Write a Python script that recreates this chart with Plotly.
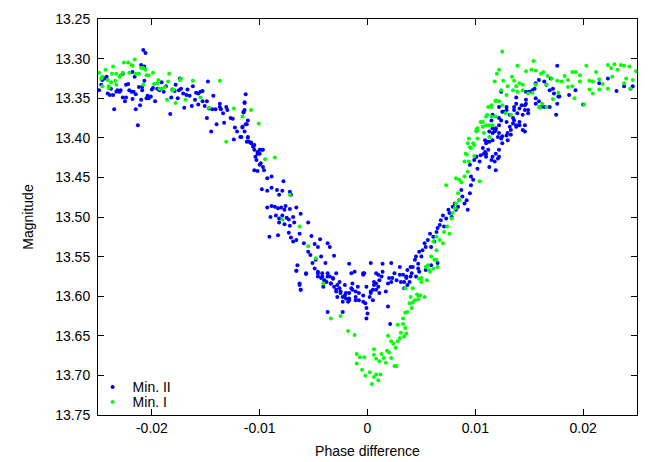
import plotly.graph_objects as go

# Min. II (blue) : (phase difference, magnitude)
min2_left = [
    (-0.0249, 13.340), (-0.0247, 13.333), (-0.0246, 13.327), (-0.0244, 13.325), (-0.0242, 13.323),
    (-0.0241, 13.344), (-0.0239, 13.346), (-0.0238, 13.338), (-0.0236, 13.346), (-0.0235, 13.364),
    (-0.0233, 13.342), (-0.0232, 13.340), (-0.0230, 13.342), (-0.0229, 13.340), (-0.0227, 13.319),
    (-0.0227, 13.349), (-0.0225, 13.354), (-0.0224, 13.349), (-0.0224, 13.333), (-0.0222, 13.332),
    (-0.0221, 13.340), (-0.0219, 13.342), (-0.0218, 13.351), (-0.0218, 13.317), (-0.0217, 13.342),
    (-0.0216, 13.323), (-0.0215, 13.345), (-0.0215, 13.364), (-0.0213, 13.384), (-0.0212, 13.336),
    (-0.0211, 13.359), (-0.0210, 13.308), (-0.0210, 13.352), (-0.0209, 13.340), (-0.0209, 13.336),
    (-0.0207, 13.310), (-0.0207, 13.328), (-0.0205, 13.350), (-0.0204, 13.347), (-0.0203, 13.350),
    (-0.0201, 13.348), (-0.0200, 13.339), (-0.0199, 13.337), (-0.0197, 13.354), (-0.0195, 13.338),
    (-0.0193, 13.340), (-0.0191, 13.330), (-0.0189, 13.342), (-0.0187, 13.335), (-0.0183, 13.370),
    (-0.0182, 13.349), (-0.0181, 13.339), (-0.0179, 13.341), (-0.0178, 13.333), (-0.0176, 13.350),
    (-0.0175, 13.340), (-0.0174, 13.325), (-0.0173, 13.338), (-0.0171, 13.344), (-0.0170, 13.362),
    (-0.0168, 13.346), (-0.0167, 13.339), (-0.0165, 13.347), (-0.0163, 13.360), (-0.0162, 13.335),
    (-0.0160, 13.352), (-0.0159, 13.343), (-0.0157, 13.358), (-0.0157, 13.344), (-0.0155, 13.342),
    (-0.0153, 13.341), (-0.0153, 13.354), (-0.0151, 13.360), (-0.0149, 13.354), (-0.0149, 13.375),
    (-0.0148, 13.329), (-0.0147, 13.363), (-0.0145, 13.392), (-0.0144, 13.364), (-0.0143, 13.347),
    (-0.0141, 13.364), (-0.0140, 13.383), (-0.0137, 13.361), (-0.0137, 13.357), (-0.0136, 13.364),
    (-0.0134, 13.369), (-0.0133, 13.381), (-0.0131, 13.361), (-0.0130, 13.365), (-0.0127, 13.375),
    (-0.0125, 13.376), (-0.0124, 13.402), (-0.0123, 13.387), (-0.0121, 13.392), (-0.0118, 13.399),
    (-0.0116, 13.387), (-0.0115, 13.367), (-0.0114, 13.355), (-0.0114, 13.365), (-0.0113, 13.345),
    (-0.0112, 13.383), (-0.0111, 13.399), (-0.0110, 13.405), (-0.0108, 13.407), (-0.0106, 13.411),
    (-0.0105, 13.409), (-0.0104, 13.424), (-0.0102, 13.418), (-0.0100, 13.420), (-0.0098, 13.415),
    (-0.0208, 13.289), (-0.0206, 13.293),
]

min2_descent = [
    (-0.0114, 13.356), (-0.0115, 13.368), (-0.0111, 13.378), (-0.0113, 13.383), (-0.0116, 13.386),
    (-0.0114, 13.392), (-0.0117, 13.399), (-0.0111, 13.400), (-0.0112, 13.405), (-0.0108, 13.406),
    (-0.0106, 13.411), (-0.0105, 13.415), (-0.0100, 13.415), (-0.0097, 13.415), (-0.0102, 13.420),
    (-0.0103, 13.428), (-0.0099, 13.432), (-0.0100, 13.434), (-0.0097, 13.437), (-0.0096, 13.441),
    (-0.0105, 13.441), (-0.0102, 13.442), (-0.0093, 13.451), (-0.0089, 13.449), (-0.0078, 13.455),
    (-0.0098, 13.465), (-0.0093, 13.467), (-0.0089, 13.463), (-0.0084, 13.466), (-0.0082, 13.472),
    (-0.0079, 13.467), (-0.0072, 13.468), (-0.0071, 13.472), (-0.0093, 13.488), (-0.0089, 13.486),
    (-0.0086, 13.487), (-0.0083, 13.489), (-0.0080, 13.488), (-0.0076, 13.486), (-0.0077, 13.491),
    (-0.0072, 13.490), (-0.0066, 13.488), (-0.0090, 13.500), (-0.0085, 13.498), (-0.0082, 13.502),
    (-0.0079, 13.498), (-0.0075, 13.501), (-0.0073, 13.503), (-0.0069, 13.500), (-0.0062, 13.496),
    (-0.0082, 13.507), (-0.0077, 13.509), (-0.0072, 13.511), (-0.0068, 13.507), (-0.0055, 13.507),
    (-0.0091, 13.525), (-0.0083, 13.523), (-0.0073, 13.520), (-0.0071, 13.526), (-0.0063, 13.521),
    (-0.0069, 13.531), (-0.0066, 13.529), (-0.0052, 13.524), (-0.0059, 13.533), (-0.0049, 13.534),
    (-0.0046, 13.538), (-0.0044, 13.528), (-0.0037, 13.533), (-0.0055, 13.544), (-0.0053, 13.548),
    (-0.0051, 13.558), (-0.0048, 13.554), (-0.0043, 13.550), (-0.0039, 13.558), (-0.0035, 13.538),
    (-0.0031, 13.549), (-0.0065, 13.561), (-0.0066, 13.568), (-0.0057, 13.571), (-0.0046, 13.571),
    (-0.0042, 13.575), (-0.0037, 13.575), (-0.0032, 13.578), (-0.0029, 13.571), (-0.0026, 13.582),
    (-0.0017, 13.559), (-0.0015, 13.571), (-0.0021, 13.586), (-0.0063, 13.586), (-0.0062, 13.592),
    (-0.0029, 13.592), (-0.0025, 13.594), (-0.0020, 13.596), (-0.0014, 13.592), (-0.0011, 13.601),
    (-0.0004, 13.571), (-0.0001, 13.588), (0.0003, 13.594), (0.0006, 13.582), (0.0008, 13.571),
    (0.0010, 13.588), (-0.0046, 13.575), (-0.0038, 13.582), (-0.0034, 13.584), (-0.0040, 13.580),
    (-0.0023, 13.601), (-0.0017, 13.603),
]

min2_bottom = [
    (-0.0066, 13.568), (-0.0057, 13.572), (-0.0063, 13.584), (-0.0062, 13.592), (-0.0049, 13.565),
    (-0.0046, 13.569), (-0.0042, 13.571), (-0.0043, 13.577), (-0.0040, 13.580), (-0.0037, 13.571),
    (-0.0035, 13.575), (-0.0032, 13.577), (-0.0034, 13.584), (-0.0031, 13.588), (-0.0028, 13.586),
    (-0.0026, 13.590), (-0.0025, 13.596), (-0.0021, 13.599), (-0.0029, 13.594), (-0.0028, 13.601),
    (-0.0023, 13.607), (-0.0020, 13.603), (-0.0018, 13.607), (-0.0017, 13.596), (-0.0015, 13.590),
    (-0.0014, 13.584), (-0.0011, 13.594), (-0.0009, 13.588), (-0.0008, 13.605), (-0.0004, 13.599),
    (-0.0003, 13.571), (-0.0002, 13.609), (-0.0001, 13.615), (0.0000, 13.622), (-0.0001, 13.628),
    (-0.0004, 13.607), (0.0002, 13.601), (0.0003, 13.596), (0.0005, 13.592), (0.0006, 13.586),
    (0.0008, 13.584), (0.0010, 13.573), (0.0011, 13.580), (0.0013, 13.575), (0.0014, 13.569),
    (0.0017, 13.594), (0.0019, 13.584), (0.0020, 13.577), (0.0022, 13.582), (0.0023, 13.577),
    (0.0025, 13.571), (0.0027, 13.580), (0.0030, 13.573), (0.0034, 13.582), (0.0036, 13.577),
    (0.0037, 13.586), (0.0040, 13.575), (0.0045, 13.575), (0.0048, 13.569), (0.0019, 13.613),
    (0.0021, 13.635), (-0.0037, 13.620), (-0.0023, 13.620), (0.0008, 13.592), (0.0011, 13.596),
    (0.0005, 13.605), (0.0003, 13.558), (0.0014, 13.559), (0.0022, 13.558), (0.0030, 13.563),
    (0.0040, 13.563), (0.0047, 13.565), (0.0054, 13.567), (0.0059, 13.561), (0.0065, 13.558),
    (-0.0012, 13.569), (-0.0004, 13.573), (-0.0041, 13.588), (-0.0017, 13.605), (-0.0011, 13.605),
    (-0.0008, 13.596),
]

min2_ascent = [
    (0.0034, 13.590), (0.0031, 13.582), (0.0036, 13.575), (0.0039, 13.582), (0.0033, 13.573),
    (0.0037, 13.567), (0.0041, 13.571), (0.0042, 13.563), (0.0044, 13.554), (0.0045, 13.550),
    (0.0047, 13.559), (0.0048, 13.544), (0.0050, 13.550), (0.0051, 13.542), (0.0053, 13.533),
    (0.0054, 13.538), (0.0056, 13.529), (0.0058, 13.521), (0.0059, 13.538), (0.0061, 13.525),
    (0.0062, 13.531), (0.0064, 13.519), (0.0065, 13.514), (0.0067, 13.510), (0.0068, 13.504),
    (0.0070, 13.498), (0.0071, 13.512), (0.0073, 13.502), (0.0075, 13.491), (0.0076, 13.495),
    (0.0078, 13.500), (0.0079, 13.487), (0.0081, 13.483), (0.0082, 13.491), (0.0084, 13.487),
    (0.0085, 13.479), (0.0087, 13.466), (0.0088, 13.474), (0.0090, 13.483), (0.0092, 13.479),
    (0.0093, 13.491), (0.0095, 13.470), (0.0096, 13.460), (0.0098, 13.453), (0.0096, 13.449),
    (0.0095, 13.434), (0.0099, 13.428), (0.0101, 13.424), (0.0102, 13.439), (0.0104, 13.430),
    (0.0105, 13.422), (0.0107, 13.413), (0.0109, 13.418), (0.0110, 13.420), (0.0112, 13.415),
    (0.0113, 13.437), (0.0115, 13.428), (0.0116, 13.424), (0.0118, 13.430), (0.0119, 13.441),
    (0.0121, 13.426), (0.0122, 13.415), (0.0109, 13.403), (0.0110, 13.407), (0.0113, 13.405),
    (0.0116, 13.394), (0.0118, 13.392), (0.0119, 13.390), (0.0121, 13.399), (0.0122, 13.394),
    (0.0124, 13.401), (0.0125, 13.407), (0.0129, 13.397), (0.0130, 13.403), (0.0132, 13.386),
    (0.0133, 13.390), (0.0135, 13.382), (0.0136, 13.378), (0.0138, 13.384), (0.0139, 13.369),
    (0.0141, 13.380), (0.0144, 13.371), (0.0146, 13.392), (0.0147, 13.357), (0.0149, 13.369),
    (0.0115, 13.378), (0.0116, 13.371), (0.0122, 13.375), (0.0125, 13.367), (0.0129, 13.361),
    (0.0132, 13.371), (0.0136, 13.365), (0.0143, 13.359), (0.0146, 13.365), (0.0156, 13.357),
    (0.0122, 13.361),
]

min2_right = [
    (0.0176, 13.309), (0.0159, 13.327), (0.0164, 13.329), (0.0166, 13.333), (0.0170, 13.325),
    (0.0169, 13.340), (0.0172, 13.338), (0.0173, 13.344), (0.0178, 13.348), (0.0176, 13.357),
    (0.0175, 13.371), (0.0177, 13.348), (0.0169, 13.361), (0.0164, 13.361), (0.0161, 13.361),
    (0.0159, 13.354), (0.0156, 13.350), (0.0155, 13.338), (0.0153, 13.340), (0.0150, 13.342),
    (0.0147, 13.352), (0.0146, 13.359), (0.0149, 13.365), (0.0141, 13.363), (0.0138, 13.357),
    (0.0136, 13.361), (0.0129, 13.365), (0.0126, 13.367), (0.0124, 13.378), (0.0122, 13.384),
    (0.0119, 13.388), (0.0116, 13.388), (0.0113, 13.392), (0.0129, 13.380), (0.0130, 13.394),
    (0.0133, 13.396), (0.0141, 13.384), (0.0144, 13.390), (0.0146, 13.384), (0.0138, 13.386),
    (0.0135, 13.375), (0.0124, 13.342), (0.0138, 13.349), (0.0147, 13.342), (0.0156, 13.331),
    (0.0187, 13.346), (0.0193, 13.340), (0.0200, 13.358), (0.0215, 13.331), (0.0223, 13.325),
    (0.0231, 13.341), (0.0238, 13.335), (0.0244, 13.338), (0.0246, 13.335), (0.0111, 13.405),
    (0.0116, 13.403), (0.0119, 13.420), (0.0122, 13.424), (0.0108, 13.420), (0.0110, 13.424),
    (0.0101, 13.424), (0.0125, 13.398),
]

# Min. I (green)
min1_left = [
    (-0.0249, 13.318), (-0.0247, 13.325), (-0.0246, 13.323), (-0.0243, 13.314), (-0.0241, 13.327),
    (-0.0240, 13.335), (-0.0238, 13.330), (-0.0237, 13.319), (-0.0236, 13.310), (-0.0234, 13.328),
    (-0.0233, 13.319), (-0.0230, 13.323), (-0.0229, 13.321), (-0.0227, 13.318), (-0.0226, 13.305),
    (-0.0222, 13.305), (-0.0221, 13.318), (-0.0219, 13.308), (-0.0218, 13.309), (-0.0216, 13.301),
    (-0.0215, 13.319), (-0.0212, 13.319), (-0.0210, 13.312), (-0.0208, 13.312), (-0.0208, 13.333),
    (-0.0206, 13.314), (-0.0205, 13.321), (-0.0203, 13.321), (-0.0199, 13.318), (-0.0198, 13.332),
    (-0.0195, 13.331), (-0.0194, 13.327), (-0.0193, 13.338), (-0.0191, 13.338), (-0.0188, 13.336),
    (-0.0186, 13.352), (-0.0185, 13.329), (-0.0184, 13.319), (-0.0181, 13.340), (-0.0180, 13.339),
    (-0.0178, 13.356), (-0.0174, 13.327), (-0.0173, 13.325), (-0.0169, 13.352), (-0.0162, 13.328),
    (-0.0155, 13.349), (-0.0147, 13.362), (-0.0137, 13.328), (-0.0131, 13.405), (-0.0124, 13.363),
    (-0.0116, 13.373), (-0.0108, 13.365), (-0.0101, 13.382), (-0.0246, 13.335), (-0.0240, 13.337),
    (-0.0233, 13.333),
]

min1_descent = [
    (-0.0095, 13.427), (-0.0086, 13.425), (-0.0072, 13.472), (-0.0079, 13.503), (-0.0063, 13.512),
    (-0.0055, 13.537), (-0.0048, 13.552), (-0.0041, 13.584),
]

min1_bottom = [
    (-0.0034, 13.628), (-0.0025, 13.625), (-0.0018, 13.644), (-0.0012, 13.649), (-0.0010, 13.673),
    (-0.0007, 13.677), (-0.0003, 13.677), (-0.0010, 13.685), (-0.0005, 13.693), (-0.0002, 13.700),
    (0.0002, 13.696), (0.0004, 13.711), (0.0006, 13.702), (0.0008, 13.699), (0.0010, 13.706),
    (0.0012, 13.699), (0.0006, 13.667), (0.0006, 13.674), (0.0008, 13.679), (0.0011, 13.682),
    (0.0013, 13.673), (0.0015, 13.678), (0.0017, 13.684), (0.0018, 13.669), (0.0020, 13.671),
    (0.0022, 13.678), (0.0025, 13.688), (0.0027, 13.688), (0.0022, 13.657), (0.0024, 13.660),
    (0.0026, 13.665), (0.0028, 13.657), (0.0030, 13.653), (0.0019, 13.650), (0.0028, 13.636),
    (0.0033, 13.635), (0.0031, 13.646), (0.0034, 13.651), (0.0036, 13.647), (0.0035, 13.640),
    (0.0033, 13.628), (0.0035, 13.621), (0.0037, 13.620), (0.0041, 13.615), (0.0042, 13.608),
    (0.0039, 13.609), (0.0044, 13.605), (0.0047, 13.604), (0.0046, 13.598), (0.0049, 13.599),
    (0.0053, 13.601), (0.0042, 13.590), (0.0035, 13.590), (0.0050, 13.582), (0.0050, 13.577),
    (0.0055, 13.580), (0.0058, 13.569), (0.0054, 13.563), (0.0065, 13.563), (0.0064, 13.554),
]

min1_ascent = [
    (0.0040, 13.601), (0.0047, 13.599), (0.0048, 13.578), (0.0057, 13.567), (0.0056, 13.561),
    (0.0061, 13.565), (0.0062, 13.554), (0.0064, 13.542), (0.0059, 13.550), (0.0061, 13.531),
    (0.0064, 13.525), (0.0067, 13.529), (0.0070, 13.533), (0.0071, 13.519), (0.0074, 13.512),
    (0.0076, 13.521), (0.0078, 13.502), (0.0079, 13.495), (0.0081, 13.489), (0.0082, 13.483),
    (0.0085, 13.479), (0.0084, 13.470), (0.0087, 13.456), (0.0082, 13.451), (0.0085, 13.453),
    (0.0073, 13.460), (0.0090, 13.449), (0.0093, 13.443), (0.0090, 13.430), (0.0094, 13.430),
    (0.0091, 13.420), (0.0096, 13.413), (0.0093, 13.407), (0.0099, 13.409), (0.0094, 13.401),
    (0.0101, 13.392), (0.0104, 13.455), (0.0102, 13.390), (0.0107, 13.386), (0.0105, 13.380),
    (0.0108, 13.394), (0.0110, 13.384), (0.0113, 13.399), (0.0115, 13.373), (0.0116, 13.384),
    (0.0111, 13.371), (0.0115, 13.361), (0.0119, 13.354), (0.0125, 13.359), (0.0133, 13.371),
    (0.0128, 13.369), (0.0162, 13.357), (0.0159, 13.361),
]

min1_right = [
    (0.0125, 13.291), (0.0139, 13.309), (0.0154, 13.303), (0.0122, 13.314), (0.0120, 13.319),
    (0.0118, 13.329), (0.0126, 13.328), (0.0130, 13.335), (0.0134, 13.323), (0.0136, 13.328),
    (0.0141, 13.331), (0.0144, 13.333), (0.0147, 13.316), (0.0152, 13.314), (0.0156, 13.315),
    (0.0161, 13.319), (0.0163, 13.317), (0.0167, 13.322), (0.0171, 13.325), (0.0176, 13.328),
    (0.0180, 13.329), (0.0183, 13.322), (0.0186, 13.327), (0.0190, 13.317), (0.0193, 13.317),
    (0.0197, 13.321), (0.0203, 13.309), (0.0206, 13.328), (0.0209, 13.329), (0.0212, 13.317),
    (0.0215, 13.326), (0.0218, 13.332), (0.0223, 13.308), (0.0226, 13.312), (0.0229, 13.307),
    (0.0232, 13.314), (0.0235, 13.308), (0.0238, 13.309), (0.0243, 13.310), (0.0249, 13.316),
    (0.0246, 13.327), (0.0238, 13.331), (0.0244, 13.338), (0.0223, 13.338), (0.0215, 13.339),
    (0.0209, 13.344), (0.0201, 13.358), (0.0192, 13.350), (0.0186, 13.336), (0.0177, 13.343),
    (0.0172, 13.351), (0.0166, 13.361), (0.0160, 13.362), (0.0153, 13.343), (0.0149, 13.344),
    (0.0139, 13.342), (0.0135, 13.340), (0.0124, 13.340), (0.0129, 13.346), (0.0122, 13.354),
    (0.0119, 13.353), (0.0115, 13.359), (0.0112, 13.361), (0.0110, 13.373), (0.0113, 13.384),
    (0.0107, 13.380), (0.0102, 13.388), (0.0101, 13.390), (0.0098, 13.407), (0.0095, 13.412),
    (0.0092, 13.421), (0.0099, 13.423), (0.0102, 13.401), (0.0119, 13.373), (0.0138, 13.335),
    (0.0156, 13.333), (0.0166, 13.333), (0.0144, 13.340), (0.0190, 13.335), (0.0197, 13.329),
    (0.0206, 13.339), (0.0227, 13.323), (0.0240, 13.325),
]

x_ticks = [-0.02, -0.01, 0, 0.01, 0.02]
x_tick_text = ["-0.02", "-0.01", "0", "0.01", "0.02"]

min2 = min2_left + min2_descent + min2_bottom + min2_ascent + min2_right
min1 = min1_left + min1_descent + min1_bottom + min1_ascent + min1_right

font = dict(family="Liberation Sans, Arial, sans-serif", size=14, color="black")

fig = go.Figure()
fig.add_trace(go.Scatter(
    x=[p[0] for p in min2], y=[p[1] for p in min2],
    mode="markers", name="Min. II", legend="legend",
    marker=dict(color="#0000ff", size=4, line=dict(width=0)),
))
fig.add_trace(go.Scatter(
    x=[p[0] for p in min1], y=[p[1] for p in min1],
    mode="markers", name="Min. I", legend="legend2",
    marker=dict(color="#00ff00", size=4, line=dict(width=0)),
))

axis_style = dict(
    showline=True, linecolor="black", linewidth=1, mirror="ticks",
    ticks="inside", ticklen=6, tickcolor="black", automargin=False,
    showgrid=False, zeroline=False, tickfont=font,
)

fig.update_xaxes(
    range=[-0.025, 0.025], tickvals=x_ticks, ticktext=x_tick_text,
    title=dict(text="Phase difference", font=font, standoff=11),
    **axis_style
)
fig.update_yaxes(
    range=[13.75, 13.25], dtick=0.05, tickformat=".2f",
    title=dict(text="Magnitude", font=font, standoff=18),
    ticklabelstandoff=4,
    **axis_style
)

legend_style = dict(
    xanchor="left", yanchor="middle", bgcolor="rgba(0,0,0,0)",
    font=font, itemwidth=30, borderwidth=0,
)

# page body keeps an 8px margin, so the figure is 8px smaller on each axis
fig.update_layout(
    width=652, height=454,
    margin=dict(l=90, r=23, t=11, b=47),
    paper_bgcolor="white", plot_bgcolor="white",
    font=font,
    showlegend=True,
    legend=dict(x=-0.01, y=0.07, **legend_style),
    legend2=dict(x=-0.01, y=0.032, **legend_style),
)

fig.write_html("out.html")
